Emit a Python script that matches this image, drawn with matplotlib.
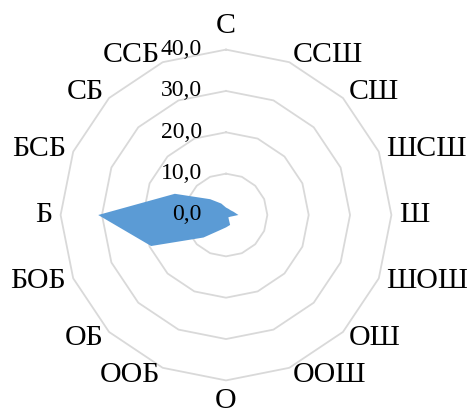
import matplotlib
matplotlib.use("Agg")
import matplotlib.pyplot as plt
import matplotlib.transforms as mtransforms
import numpy as np

plt.rcParams["font.family"] = ["Liberation Serif", "DejaVu Serif"]

# wind directions (clockwise from north) and frequencies, %
directions = ["С", "ССШ", "СШ", "ШСШ", "Ш", "ШОШ", "ОШ", "ООШ",
              "О", "ООБ", "ОБ", "БОБ", "Б", "БСБ", "СБ", "ССБ"]
values = [1.8, 1.6, 1.6, 2.0, 3.0, 1.1, 0.8, 2.6,
          3.0, 4.0, 7.7, 19.6, 30.9, 13.4, 5.4, 3.0]
rings = [0, 10, 20, 30, 40]
ring_labels = ["0,0", "10,0", "20,0", "30,0", "40,0"]

W, H = 467, 416
cx, cy, R = 226, 215, 165.4

fig = plt.figure(figsize=(W / 100, H / 100), dpi=100)
ax = fig.add_axes([(cx - R) / W, (H - cy - R) / H, 2 * R / W, 2 * R / H],
                  projection="polar")
ax.set_theta_zero_location("N")
ax.set_theta_direction(-1)
ax.set_ylim(0, 40)
ax.grid(False)
ax.spines["polar"].set_visible(False)
ax.set_xticks([])
ax.set_yticks([])
ax.patch.set_visible(False)

n = len(directions)
theta = np.arange(n) * 2 * np.pi / n
theta_c = np.append(theta, theta[0])

# polygon grid rings
for r in rings[1:]:
    ax.plot(theta_c, [r] * (n + 1), color="#D9D9D9", lw=1.3, zorder=1,
            clip_on=False)

# data area
vals_c = np.append(values, values[0])
ax.fill(theta_c, vals_c, color="#5B9BD5", lw=0, zorder=2)

# ring value labels, right-aligned left of the vertical axis
lab_tr = mtransforms.offset_copy(ax.transData, fig=fig, x=-24, y=0, units="dots")
for r, lab in zip(rings, ring_labels):
    ax.text(0, r, lab, transform=lab_tr, ha="right", va="center",
            fontsize=17, zorder=3, clip_on=False)

# direction labels outside the outer ring
for t, name in zip(theta, directions):
    s, c = np.sin(t), np.cos(t)
    if abs(s) < 0.1:
        gap, ha = (24 if c > 0 else 21), "center"
    else:
        gap, ha = 8, ("left" if s > 0 else "right")
    tr = mtransforms.offset_copy(ax.transData, fig=fig, x=gap * s, y=gap * c,
                                 units="dots")
    ax.text(t, 40, name, transform=tr, ha=ha, va="center", fontsize=21.5,
            clip_on=False)

fig.savefig("out.png", dpi=100)
